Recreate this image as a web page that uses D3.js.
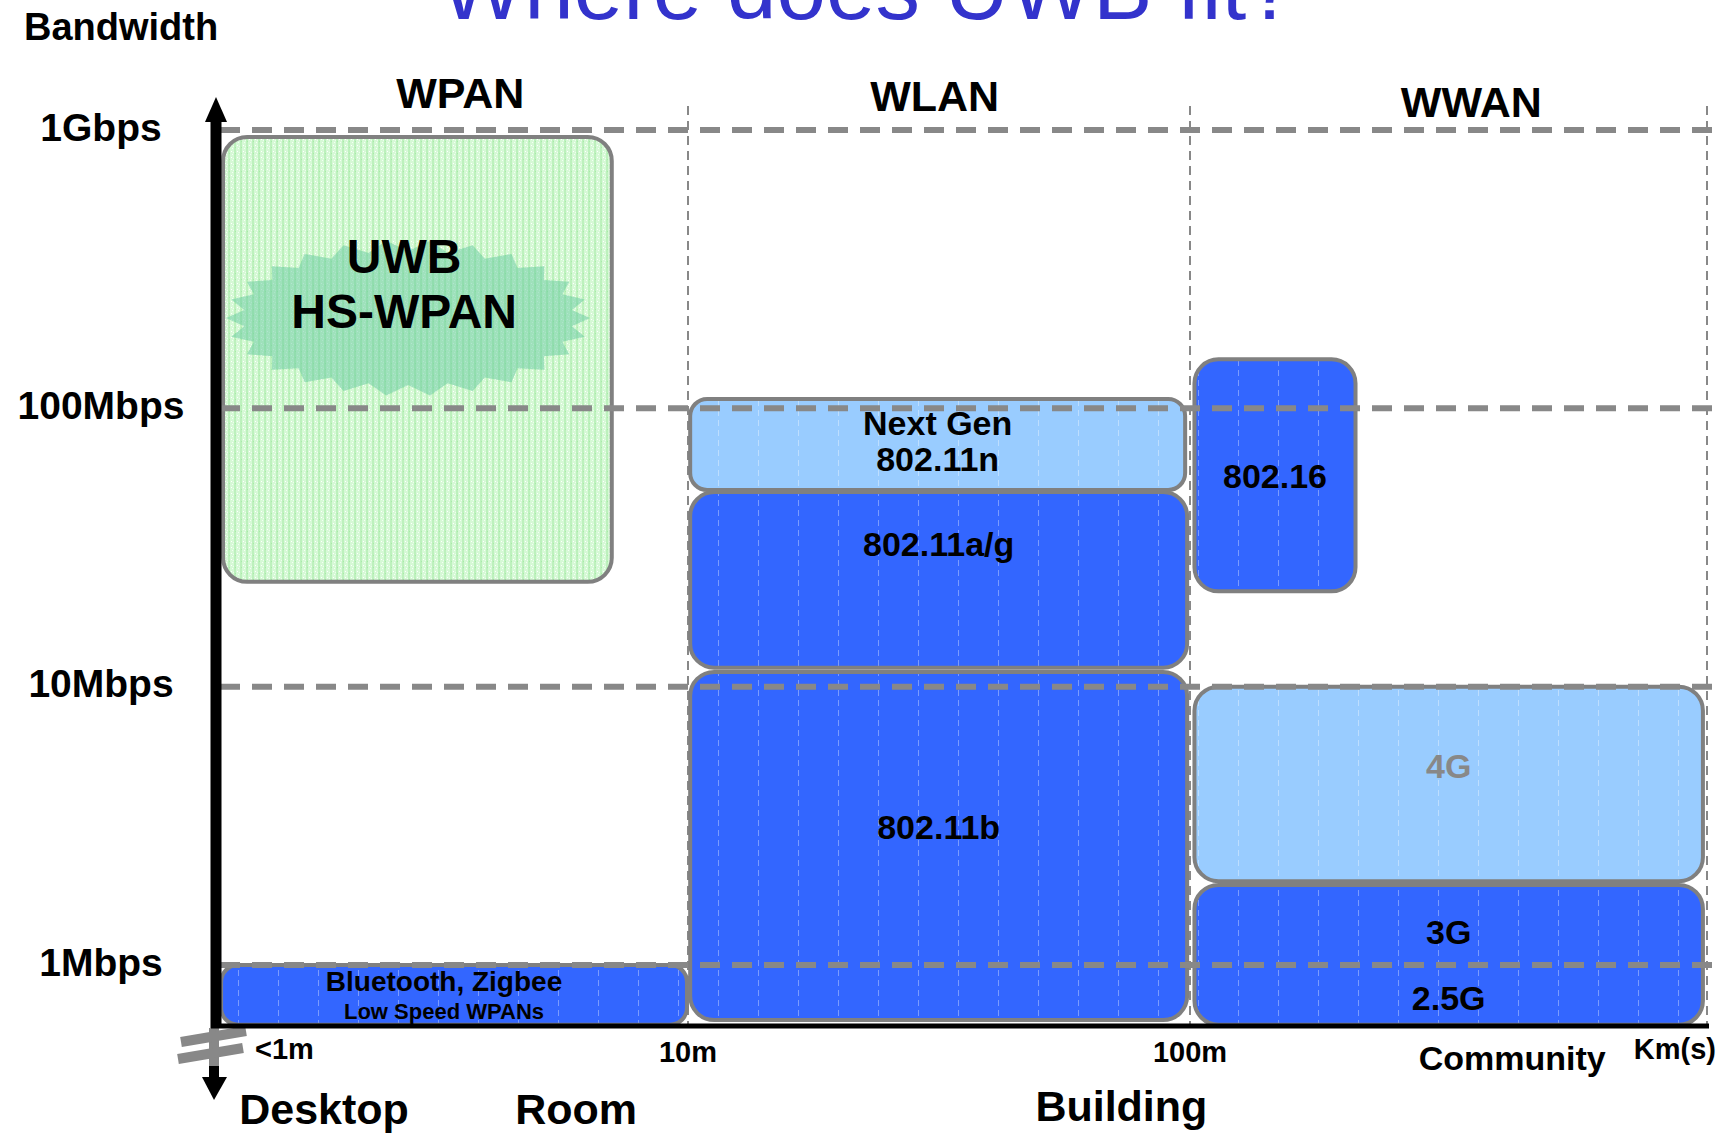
<!DOCTYPE html>
<html>
<head>
<meta charset="utf-8">
<script src="https://cdn.jsdelivr.net/npm/d3@7"></script>
<style>
  html, body { margin: 0; padding: 0; background: #ffffff; }
  svg { display: block; font-family: "Liberation Sans", Arial, Helvetica, sans-serif; }
</style>
</head>
<body>
<svg id="chart" width="1723" height="1135"></svg>
<script>
// ---- Bandwidth reference levels (Mbps) ----
const rateTicks = [1000, 100, 10, 1];
const rateTickLabels = ["1Gbps", "100Mbps", "10Mbps", "1Mbps"];

// ---- Distance ticks (metres) ----
const distTicks = [1, 10, 100, 1000];
const distTickLabels = ["<1m", "10m", "100m", "Km(s)"];

// ---- Typical coverage places (metres) ----
const placeLabels = ["Desktop", "Room", "Building", "Community"];
const placeM = [1.7, 5.8, 73, 420];

// ---- Network classes ----
const netClasses = ["WPAN", "WLAN", "WWAN"];
const netClassM = [3.3, 31, 350];

// ---- Wireless technologies: coverage range (m) and bandwidth (Mbps) ----
const techNames = ["UWB HS-WPAN", "Bluetooth, Zigbee", "Next Gen 802.11n", "802.11a/g",
                   "802.11b", "802.16", "4G", "3G / 2.5G"];
const rangeFromM = [1.04, 1.03, 10.1, 10.1, 10.1, 102, 102, 102];
const rangeToM   = [6.9, 9.95, 97.8, 98.7, 98.7, 209, 982, 982];
const rateFromMbps = [23.8, 0.61, 50.9, 11.7, 0.634, 22, 2.0, 0.61];
const rateToMbps   = [944, 1.0, 108, 50, 11.3, 150, 10, 1.94];
const techKind = ["uwb", "blue", "light", "blue", "blue", "blue", "light", "blue"];

// Label lines for each technology and the bandwidth each line sits at (Mbps)
const labelLines = [["UWB", "HS-WPAN"], ["Bluetooth, Zigbee", "Low Speed WPANs"], ["Next Gen", "802.11n"],
                    ["802.11a/g"], ["802.11b"], ["802.16"], ["4G"], ["3G", "2.5G"]];
const labelRates = [[353, 224], [0.876, 0.684], [88.6, 65.8], [32.6], [3.13], [57.1], [5.19], [1.31, 0.761]];

// Centre of the UWB highlight burst
const burstM = 2.56, burstMbps = 211;

// ---------------------------------------------------------------
const svg = d3.select("#chart");

const xScale = d3.scaleLog().domain([1, 10, 100, 1000]).range([215, 688, 1190, 1707]);
const yScale = d3.scaleLog().domain([1, 1000]).range([965, 130]);

const axisX = xScale(1);
const axisY = 1026;
const GRID = "#888888";

// Fill textures
const defs = svg.append("defs");
const uwb = defs.append("pattern").attr("id", "tex-uwb")
  .attr("patternUnits", "userSpaceOnUse").attr("width", 6).attr("height", 6);
uwb.append("rect").attr("width", 6).attr("height", 6).attr("fill", "#d6f9d6");
uwb.append("rect").attr("x", 0).attr("width", 2).attr("height", 6).attr("fill", "#bdf1bd");
uwb.append("rect").attr("x", 3).attr("y", 1).attr("width", 1).attr("height", 1).attr("fill", "#ffffff");
uwb.append("rect").attr("x", 4).attr("y", 4).attr("width", 1).attr("height", 1).attr("fill", "#f4fff4");
uwb.append("rect").attr("x", 1).attr("y", 3).attr("width", 1).attr("height", 1).attr("fill", "#a8eba8");
uwb.append("rect").attr("x", 5).attr("y", 2).attr("width", 1).attr("height", 1).attr("fill", "#eefcee");

function stripeTexture(id, base) {
  const p = defs.append("pattern").attr("id", id)
    .attr("patternUnits", "userSpaceOnUse").attr("width", 40).attr("height", 10)
    .attr("x", 18);
  p.append("rect").attr("width", 40).attr("height", 10).attr("fill", base);
  p.append("line").attr("x1", 20.5).attr("x2", 20.5).attr("y1", 0).attr("y2", 6)
    .attr("stroke", "#ffffff").attr("stroke-opacity", 0.35).attr("stroke-width", 1);
}
stripeTexture("tex-blue", "#3366ff");
stripeTexture("tex-light", "#99ccff");

// Title (runs off the top edge)
svg.append("text")
  .attr("x", 868).attr("y", 19)
  .attr("text-anchor", "middle")
  .attr("font-size", 89)
  .attr("fill", "#3333cc")
  .text("Where does UWB fit?");

svg.append("text")
  .attr("x", 24).attr("y", 27).attr("dy", "0.35em")
  .attr("font-size", 38).attr("font-weight", "bold")
  .text("Bandwidth");

// Vertical distance grid lines
svg.append("g").selectAll("line")
  .data(distTicks.slice(1))
  .join("line")
  .attr("x1", d => xScale(d)).attr("x2", d => xScale(d))
  .attr("y1", 106).attr("y2", axisY)
  .attr("stroke", GRID).attr("stroke-width", 2)
  .attr("stroke-dasharray", "9 6");

// Technology blocks
const blocks = techNames.map((name, i) => ({
  name,
  x0: xScale(rangeFromM[i]), x1: xScale(rangeToM[i]),
  y0: yScale(rateToMbps[i]), y1: yScale(rateFromMbps[i]),
  kind: techKind[i], lines: labelLines[i], rates: labelRates[i]
}));

svg.append("g").selectAll("rect")
  .data(blocks)
  .join("rect")
  .attr("x", d => d.x0).attr("y", d => d.y0)
  .attr("width", d => d.x1 - d.x0).attr("height", d => d.y1 - d.y0)
  .attr("rx", d => (d.y1 - d.y0) < 100 ? 17 : 24)
  .attr("fill", d => `url(#tex-${d.kind})`)
  .attr("stroke", "#808080").attr("stroke-width", 4);

// UWB burst
const bx = xScale(burstM), by = yScale(burstMbps);
const spikes = 26, rxO = 182, ryO = 78, rxI = 165, ryI = 67;
const burstPts = d3.range(spikes * 2).map(k => {
  const a = (k / (spikes * 2)) * 2 * Math.PI;
  const outer = k % 2 === 0;
  return [bx + Math.cos(a) * (outer ? rxO : rxI), by + Math.sin(a) * (outer ? ryO : ryI)];
});
svg.append("path")
  .attr("d", d3.line().curve(d3.curveLinearClosed)(burstPts))
  .attr("fill", "#66c9a0").attr("fill-opacity", 0.5);

// Horizontal bandwidth grid lines (drawn over the blocks)
svg.append("g").selectAll("line")
  .data(rateTicks)
  .join("line")
  .attr("x1", axisX + 5).attr("x2", xScale(1000) + 5)
  .attr("y1", d => yScale(d)).attr("y2", d => yScale(d))
  .attr("stroke", GRID).attr("stroke-width", 6)
  .attr("stroke-dasharray", "20 12");

// Block labels
const lblSize = [48, 28, 34, 34, 34, 34, 34, 34];
const lblSize2 = [48, 22, 34, 34, 34, 34, 34, 34];
const labelG = svg.append("g").attr("font-weight", "bold").attr("text-anchor", "middle");
blocks.forEach((b, i) => {
  const cx = b.kind === "uwb" ? bx - 4 : (b.x0 + b.x1) / 2 - (i === 1 ? 10 : 0);
  b.lines.forEach((t, j) => {
    labelG.append("text")
      .attr("x", cx).attr("y", yScale(b.rates[j])).attr("dy", "0.35em")
      .attr("font-size", j === 0 ? lblSize[i] : lblSize2[i])
      .attr("fill", b.name === "4G" ? "#888888" : "#000000")
      .text(t);
  });
});

// Y axis with arrow heads and break mark
const ax = svg.append("g");
ax.append("line").attr("x1", axisX + 1).attr("x2", axisX + 1).attr("y1", 118).attr("y2", axisY + 2)
  .attr("stroke", "#000").attr("stroke-width", 11);
ax.append("path").attr("d", `M${axisX + 1},97 L${axisX - 10},122 L${axisX + 12},122 Z`).attr("fill", "#000");
ax.append("line").attr("x1", axisX - 1).attr("x2", axisX - 1).attr("y1", axisY + 2).attr("y2", 1068)
  .attr("stroke", GRID).attr("stroke-width", 10);
ax.append("line").attr("x1", axisX - 1).attr("x2", axisX - 1).attr("y1", 1066).attr("y2", 1082)
  .attr("stroke", "#000").attr("stroke-width", 10);
ax.append("path").attr("d", `M${axisX - 1},1100 L${axisX - 13},1077 L${axisX + 12},1077 Z`).attr("fill", "#000");
[[181, 1042, 246, 1031], [178, 1059, 243, 1048]].forEach(s => {
  ax.append("line").attr("x1", s[0]).attr("y1", s[1]).attr("x2", s[2]).attr("y2", s[3])
    .attr("stroke", GRID).attr("stroke-width", 10);
});

// X axis
ax.append("line").attr("x1", axisX - 4).attr("x2", xScale(1000) + 2).attr("y1", axisY).attr("y2", axisY)
  .attr("stroke", "#000").attr("stroke-width", 5);

// Bandwidth tick labels
svg.append("g").attr("font-weight", "bold").attr("font-size", 39).attr("text-anchor", "middle")
  .selectAll("text").data(rateTicks).join("text")
  .attr("x", 101).attr("y", d => yScale(d) - 3).attr("dy", "0.35em")
  .text((d, i) => rateTickLabels[i]);

// Network class headings
const headDrop = [0, 3, 9];
svg.append("g").attr("font-weight", "bold").attr("font-size", 43).attr("text-anchor", "middle")
  .selectAll("text").data(netClasses).join("text")
  .attr("x", (d, i) => xScale(netClassM[i])).attr("y", (d, i) => 93 + headDrop[i]).attr("dy", "0.35em")
  .text(d => d);

// Distance tick labels
const nT = distTicks.length;
svg.append("g").attr("font-weight", "bold").attr("font-size", 29)
  .selectAll("text").data(distTicks).join("text")
  .attr("x", (d, i) => xScale(d) + (i === 0 ? 40 : i === nT - 1 ? 9 : 0))
  .attr("text-anchor", (d, i) => i === 0 ? "start" : i === nT - 1 ? "end" : "middle")
  .attr("y", (d, i) => (i === 0 || i === nT - 1) ? 1049 : 1052).attr("dy", "0.35em")
  .text((d, i) => distTickLabels[i]);

// Place labels
svg.append("g").attr("font-weight", "bold").attr("text-anchor", "middle")
  .selectAll("text").data(placeM).join("text")
  .attr("x", d => xScale(d))
  .attr("y", (d, i) => i === 3 ? 1058 : i === 2 ? 1106 : 1109).attr("dy", "0.35em")
  .attr("font-size", (d, i) => i === 3 ? 34 : 43)
  .text((d, i) => placeLabels[i]);
</script>
</body>
</html>
